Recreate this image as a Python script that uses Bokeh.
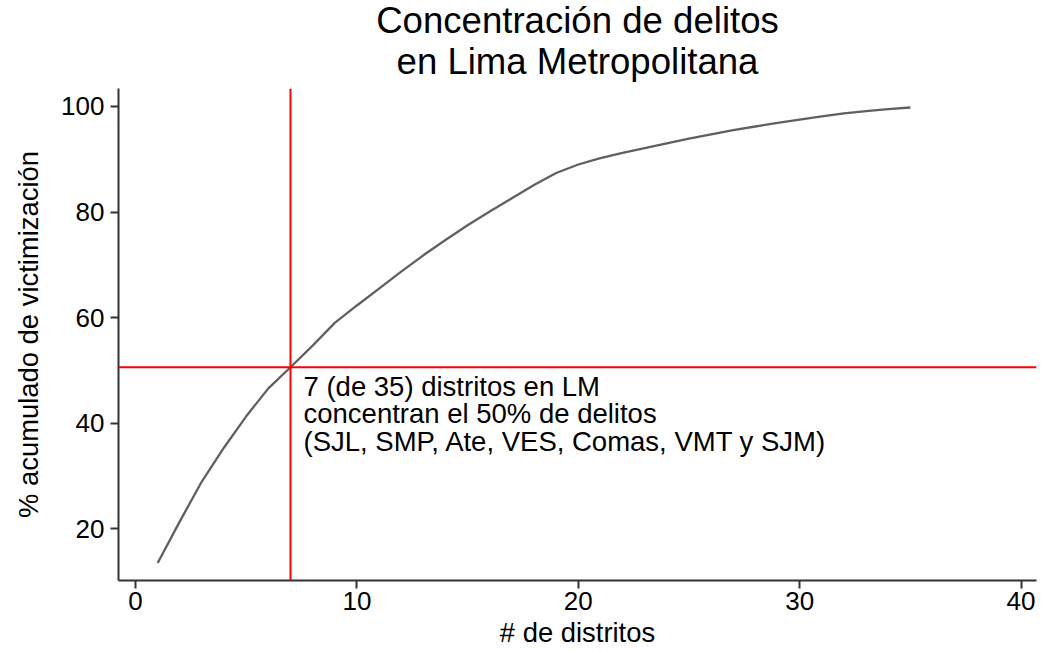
from bokeh.plotting import figure
from bokeh.models import Range1d, FixedTicker, Span, Title
from bokeh.embed import file_html
from bokeh.resources import INLINE
from bokeh.core.properties import value

# Data
distritos = list(range(1, 36))
acumulado = [13.5, 21.4, 29.0, 35.4, 41.3, 46.6, 50.6, 54.7, 59.0, 62.3,
             65.5, 68.7, 71.8, 74.7, 77.5, 80.1, 82.6, 85.1, 87.4, 89.0,
             90.2, 91.2, 92.1, 93.0, 93.9, 94.7, 95.5, 96.2, 96.9, 97.5,
             98.1, 98.7, 99.1, 99.5, 99.8]
corte_x = 7
corte_y = 50.6
x_ticks = [0, 10, 20, 30, 40]
y_ticks = [20, 40, 60, 80, 100]
titulo_1 = "Concentración de delitos"
titulo_2 = "en Lima Metropolitana"
nota = "7 (de 35) distritos en LM\nconcentran el 50% de delitos\n(SJL, SMP, Ate, VES, Comas, VMT y SJM)"

FONT = "Liberation Sans"

p = figure(width=1048, height=651, output_backend="svg", toolbar_location=None,
           title=None,
           x_range=Range1d(-0.77, 40.7), y_range=Range1d(10.2, 103.4),
           min_border_left=118, min_border_right=12, min_border_top=88, min_border_bottom=71)

for txt, sto in ((titulo_2, 14), (titulo_1, -18)):
    p.add_layout(Title(text=txt, text_font=FONT, text_font_size="36.6px",
                       text_font_style="normal", text_color="black",
                       align="center", standoff=sto, offset=0), "above")

p.grid.visible = False
p.outline_line_color = None
p.background_fill_color = "white"
p.border_fill_color = "white"

for ax in (p.xaxis[0], p.yaxis[0]):
    ax.axis_line_color = "#333333"
    ax.axis_line_width = 2
    ax.major_tick_line_color = "#333333"
    ax.major_tick_line_width = 2
    ax.major_tick_out = 8
    ax.major_tick_in = 0
    ax.minor_tick_line_color = None
    ax.major_label_text_font = FONT
    ax.major_label_text_font_size = "26px"
    ax.major_label_text_color = "black"
    ax.axis_label_text_font = FONT
    ax.axis_label_text_font_size = "27.4px"
    ax.axis_label_text_font_style = "normal"
    ax.axis_label_text_color = "black"

p.xaxis.ticker = FixedTicker(ticks=x_ticks)
p.yaxis.ticker = FixedTicker(ticks=y_ticks)
p.xaxis.axis_label = "# de distritos"
p.yaxis.axis_label = "% acumulado de victimización"
p.xaxis.major_label_standoff = 3
p.yaxis.major_label_standoff = 6
p.xaxis.axis_label_standoff = 4
p.yaxis.axis_label_standoff = 14
p.yaxis.major_label_orientation = "horizontal"

p.line(distritos, acumulado, line_color="#606060", line_width=2.3)

p.add_layout(Span(location=corte_x, dimension="height", line_color="red", line_width=2))
p.add_layout(Span(location=corte_y, dimension="width", line_color="red", line_width=2))

p.text(x=[corte_x], y=[corte_y], text=[nota], x_offset=13, y_offset=4,
       text_font=value(FONT), text_font_size="27.5px", text_baseline="top",
       text_align="left", text_color="black", text_line_height=0.88)

open("out.html", "w").write(file_html(p, INLINE))
